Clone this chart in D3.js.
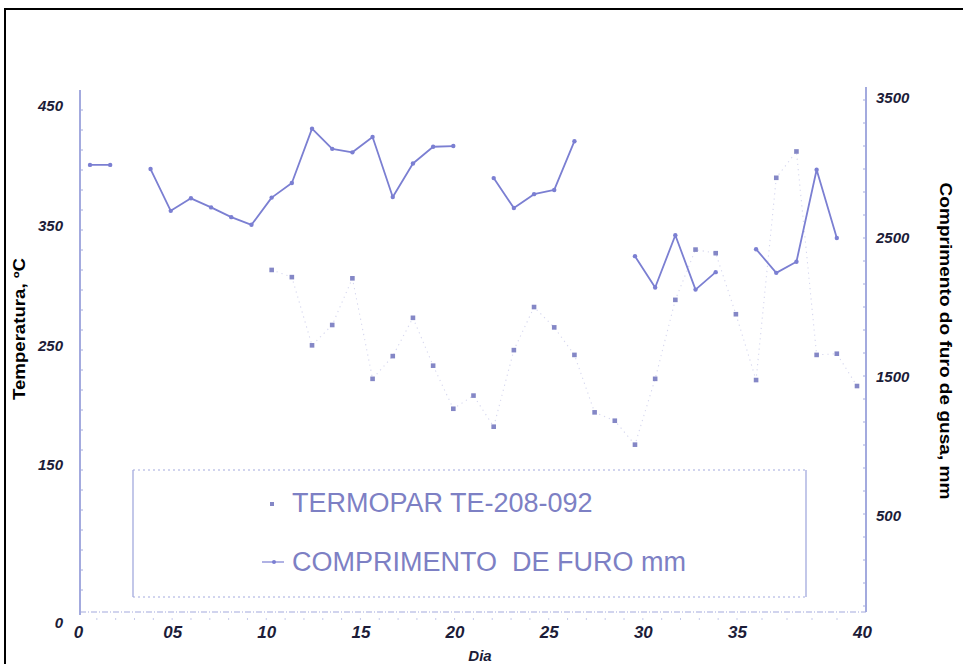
<!DOCTYPE html>
<html>
<head>
<meta charset="utf-8">
<script src="https://cdn.jsdelivr.net/npm/d3@7"></script>
<style>
  html, body { margin: 0; padding: 0; background: #fff; }
  svg { display: block; }
</style>
</head>
<body>
<svg id="chart" width="963" height="664"></svg>
<script>
// Reading number (one reading per sample along the campaign)
const leituras = [1, 2, 3, 4, 5, 6, 7, 8, 9, 10, 11, 12, 13, 14, 15, 16, 17, 18, 19, 20,
                  21, 22, 23, 24, 25, 26, 27, 28, 29, 30, 31, 32, 33, 34, 35, 36, 37, 38, 39];

// Tap-hole length, mm (null = no measurement)
const comprimento = [3020, 3020, null, 2990, 2690, 2780, 2715, 2645, 2590, 2785,
                     2890, 3280, 3135, 3110, 3220, 2790, 3030, 3150, 3155, null,
                     2925, 2710, 2810, 2840, 3190, null, null, 2365, 2140, 2515,
                     2125, 2250, null, 2415, 2245, 2325, 2985, 2495, null];

// Thermocouple TE-208-092, °C
const temperatura = [null, null, null, null, null, null, null, null, null, 313,
                     307, 250, 267, 306, 222, 241, 273, 233, 197, 208,
                     182, 246, 282, 265, 242, 194, 187, 167, 222, 288,
                     330, 327, 276, 221, 390, 412, 242, 243, 216];

// Axis ticks and labels
const diaTicks = [0, 5, 10, 15, 20, 25, 30, 35, 40];
const diaLabels = ["0", "05", "10", "15", "20", "25", "30", "35", "40"];
const tempTicks = [0, 150, 250, 350, 450];
const compTicks = [500, 1500, 2500, 3500];
const legendLabels = ["TERMOPAR TE-208-092", "COMPRIMENTO  DE FURO mm"];

const svg = d3.select("#chart");
const ink = "#7b7fd2";
const dotInk = "#8487c6";
const axisInk = "#a3aade";
const labelInk = "#1c1c38";
const font = "'Liberation Sans', Arial, sans-serif";

// Frame
svg.append("path")
  .attr("d", "M5,664 V9 H963")
  .attr("fill", "none")
  .attr("stroke", "#000")
  .attr("stroke-width", 2);

// Scales
const x = d3.scaleLinear().domain([1, 39]).range([90, 857]);
const xDia = d3.scaleLinear().domain([0, 35, 40]).range([78, 737, 862]);
const yT = d3.scaleLinear().domain([0, 150, 450]).range([623, 465, 106]);
const yC = d3.scaleLinear().domain([500, 3500]).range([516, 98]);

const plotLeft = 80, plotRight = 866, plotBottom = 612;

// Axis lines
svg.append("line")
  .attr("x1", plotLeft).attr("x2", plotLeft).attr("y1", 90).attr("y2", plotBottom + 3)
  .attr("stroke", axisInk).attr("stroke-width", 2);
svg.append("line")
  .attr("x1", plotRight).attr("x2", plotRight).attr("y1", 87).attr("y2", plotBottom)
  .attr("stroke", axisInk).attr("stroke-width", 2);
svg.append("line")
  .attr("x1", plotLeft).attr("x2", plotRight).attr("y1", plotBottom).attr("y2", plotBottom)
  .attr("stroke", axisInk).attr("stroke-width", 1.2)
  .attr("stroke-dasharray", "6,2,1,2");

// Minor tick marks along the axes
const minor = svg.append("g").attr("stroke", axisInk).attr("stroke-width", 1);
minor.selectAll("line.ml").data(d3.range(110, 610, 20)).join("line")
  .attr("x1", plotLeft).attr("x2", plotLeft + 3).attr("y1", d => d).attr("y2", d => d);
minor.selectAll("line.mr").data(d3.range(100, 610, 23)).join("line")
  .attr("x1", plotRight - 3).attr("x2", plotRight).attr("y1", d => d).attr("y2", d => d);
minor.selectAll("line.mb").data(d3.range(1, 40)).join("line")
  .attr("x1", d => xDia(d)).attr("x2", d => xDia(d))
  .attr("y1", plotBottom + 6).attr("y2", plotBottom + 8)
  .attr("opacity", 0.6);

// Tick labels via D3 axes
function styleTicks(g, size) {
  g.select(".domain").remove();
  g.selectAll(".tick line").remove();
  g.selectAll(".tick text")
    .attr("fill", labelInk)
    .attr("font-family", font)
    .attr("font-style", "italic")
    .attr("font-weight", "bold")
    .attr("font-size", size);
}

svg.append("g")
  .attr("transform", `translate(${plotLeft},0)`)
  .call(d3.axisLeft(yT).tickValues(tempTicks).tickFormat(d3.format("d"))
        .tickSize(0).tickPadding(17))
  .call(g => styleTicks(g, 15));

svg.append("g")
  .attr("transform", `translate(${plotRight},0)`)
  .call(d3.axisRight(yC).tickValues(compTicks).tickFormat(d3.format("d"))
        .tickSize(0).tickPadding(10))
  .call(g => styleTicks(g, 15));

svg.append("g")
  .attr("transform", `translate(0,${plotBottom})`)
  .call(d3.axisBottom(xDia).tickValues(diaTicks)
        .tickFormat((d, i) => diaLabels[i]).tickSize(0).tickPadding(14))
  .call(g => styleTicks(g, 17));

// Axis titles
svg.append("text")
  .attr("transform", "translate(25,329) rotate(-90)")
  .attr("text-anchor", "middle")
  .attr("font-family", font).attr("font-weight", "bold").attr("font-size", 16)
  .attr("textLength", 142).attr("lengthAdjust", "spacingAndGlyphs")
  .attr("fill", "#000")
  .text("Temperatura, ºC");

svg.append("text")
  .attr("transform", "translate(940,341) rotate(90)")
  .attr("text-anchor", "middle")
  .attr("font-family", font).attr("font-weight", "bold").attr("font-size", 17)
  .attr("textLength", 317).attr("lengthAdjust", "spacingAndGlyphs")
  .attr("fill", "#000")
  .text("Comprimento do furo de gusa, mm");

svg.append("text")
  .attr("x", 480).attr("y", 661)
  .attr("text-anchor", "middle")
  .attr("font-family", font).attr("font-style", "italic").attr("font-weight", "bold")
  .attr("font-size", 15)
  .attr("fill", labelInk)
  .text("Dia");

// Data rows
const rows = leituras.map((n, i) => ({ n, comp: comprimento[i], temp: temperatura[i] }));

// Thermocouple: faint dotted trace plus square dots
const tempRows = rows.filter(d => d.temp != null);
svg.append("path")
  .datum(tempRows)
  .attr("fill", "none")
  .attr("stroke", "#9094d2")
  .attr("stroke-width", 1.1)
  .attr("stroke-dasharray", "1.2,4")
  .attr("opacity", 0.38)
  .attr("d", d3.line().x(d => x(d.n)).y(d => yT(d.temp)));

svg.append("g").selectAll("rect")
  .data(tempRows).join("rect")
  .attr("x", d => x(d.n) - 2.3).attr("y", d => yT(d.temp) - 2.3)
  .attr("width", 4.6).attr("height", 4.6)
  .attr("fill", dotInk);

// Tap-hole length: solid line with gaps where no reading
svg.append("path")
  .datum(rows)
  .attr("fill", "none")
  .attr("stroke", ink)
  .attr("stroke-width", 1.8)
  .attr("stroke-linejoin", "round")
  .attr("d", d3.line().defined(d => d.comp != null).x(d => x(d.n)).y(d => yC(d.comp)));

svg.append("g").selectAll("circle")
  .data(rows.filter(d => d.comp != null)).join("circle")
  .attr("cx", d => x(d.n)).attr("cy", d => yC(d.comp))
  .attr("r", 2.2)
  .attr("fill", ink);

// Legend
const lg = svg.append("g");
const box = { x: 133, y: 470, w: 673, h: 127 };
lg.append("line").attr("x1", box.x).attr("x2", box.x + box.w).attr("y1", box.y).attr("y2", box.y)
  .attr("stroke", axisInk).attr("stroke-dasharray", "2,3");
lg.append("line").attr("x1", box.x).attr("x2", box.x + box.w).attr("y1", box.y + box.h).attr("y2", box.y + box.h)
  .attr("stroke", axisInk).attr("stroke-dasharray", "2,3");
lg.append("line").attr("x1", box.x).attr("x2", box.x).attr("y1", box.y).attr("y2", box.y + box.h)
  .attr("stroke", axisInk).attr("stroke-width", 1.3);
lg.append("line").attr("x1", box.x + box.w).attr("x2", box.x + box.w).attr("y1", box.y).attr("y2", box.y + box.h)
  .attr("stroke", axisInk).attr("stroke-width", 1.3);

lg.append("rect").attr("x", 270).attr("y", 502).attr("width", 4).attr("height", 4).attr("fill", dotInk);
lg.append("line").attr("x1", 262).attr("x2", 284).attr("y1", 562).attr("y2", 562)
  .attr("stroke", ink).attr("stroke-width", 1.2);
lg.append("circle").attr("cx", 274).attr("cy", 562).attr("r", 2).attr("fill", ink);

lg.selectAll("text").data(legendLabels).join("text")
  .attr("x", 292)
  .attr("y", (d, i) => 512 + i * 59)
  .attr("font-family", font)
  .attr("font-size", 27)
  .attr("fill", "#7d80c4")
  .attr("xml:space", "preserve")
  .style("white-space", "pre")
  .text(d => d);
</script>
</body>
</html>
